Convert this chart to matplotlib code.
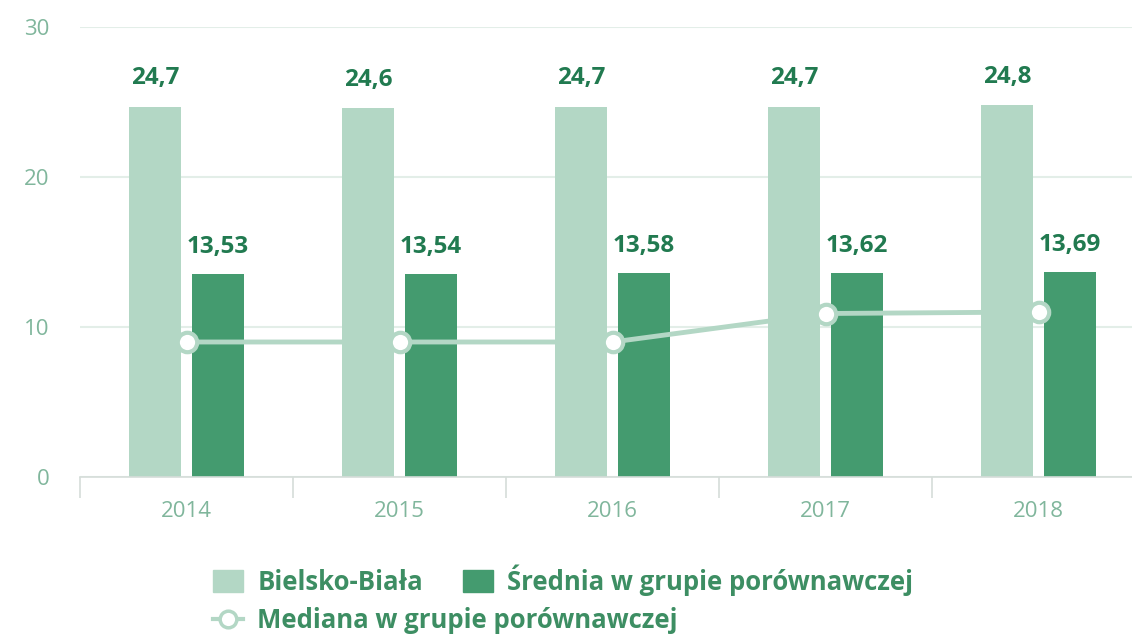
import matplotlib.pyplot as plt
from matplotlib.patches import Patch
from matplotlib.lines import Line2D
import numpy as np

plt.rcParams['font.family'] = ['Open Sans', 'DejaVu Sans']

years = ['2014', '2015', '2016', '2017', '2018']
bielsko = [24.7, 24.6, 24.7, 24.7, 24.8]
srednia = [13.53, 13.54, 13.58, 13.62, 13.69]
mediana = [9.0, 9.0, 9.0, 10.9, 11.0]
bielsko_lbl = ['24,7', '24,6', '24,7', '24,7', '24,8']
srednia_lbl = ['13,53', '13,54', '13,58', '13,62', '13,69']

light = '#b3d7c5'
dark = '#449b6f'
txt = '#217a50'
tick_col = '#80b69c'
grid_col = '#e3eee8'
leg_col = '#3d8e63'

fig = plt.figure(figsize=(11.32, 6.34), dpi=100)
ax = fig.add_axes([80 / 1132, 1 - 477 / 634, 1065 / 1132, 450 / 634])

x = np.arange(len(years))
w = 0.24
off = 0.148
ax.bar(x - off, bielsko, w, color=light, zorder=2)
ax.bar(x + off, srednia, w, color=dark, zorder=2)
ax.plot(x, mediana, color=light, lw=3.5, marker='o', ms=14,
        mfc='white', mec=light, mew=3, zorder=4)

for i in range(len(years)):
    ax.annotate(bielsko_lbl[i], (x[i] - off, bielsko[i]), xytext=(0, 16),
                textcoords='offset points', ha='center', va='baseline',
                fontsize=17.5, fontweight='bold', color=txt)
    ax.annotate(srednia_lbl[i], (x[i] + off, srednia[i]), xytext=(0, 15),
                textcoords='offset points', ha='center', va='baseline',
                fontsize=17.5, fontweight='bold', color=txt)

ax.set_xlim(-0.5, 4.5)
ax.set_ylim(0, 30)
ax.set_yticks([0, 10, 20, 30])
ax.yaxis.grid(True, color=grid_col, lw=1.5, zorder=0)
ax.set_axisbelow(True)
for s in ['top', 'right', 'left']:
    ax.spines[s].set_visible(False)
ax.spines['bottom'].set_color('#d5ddd9')
ax.spines['bottom'].set_linewidth(1.2)

ax.set_xticks(x)
ax.set_xticklabels(years, fontsize=16, color=tick_col)
ax.set_xticks(np.arange(-0.5, 5, 1), minor=True)
ax.tick_params(axis='x', which='major', length=0, pad=17)
ax.tick_params(axis='x', which='minor', length=15, color='#d5ddd9', width=1.2)
ax.tick_params(axis='y', length=0, labelsize=16, labelcolor=tick_col, pad=22)

h1 = [Patch(color=light), Patch(color=dark)]
leg1 = fig.legend(h1, ['Bielsko-Biała', 'Średnia w grupie porównawczej'],
                  loc='center left', bbox_to_anchor=(190 / 1132, 1 - 580 / 634),
                  ncol=2, frameon=False, handlelength=1.17, handleheight=0.93,
                  handletextpad=0.55, columnspacing=1.55,
                  prop={'size': 18.5, 'weight': 'bold'})
for t in leg1.get_texts():
    t.set_color(leg_col)
h2 = [Line2D([], [], color=light, lw=3, marker='o', ms=12, mfc='white', mec=light, mew=2.5)]
leg2 = fig.legend(h2, ['Mediana w grupie porównawczej'],
                  loc='center left', bbox_to_anchor=(190 / 1132, 1 - 620 / 634),
                  frameon=False, handlelength=1.17, handletextpad=0.55,
                  prop={'size': 18.5, 'weight': 'bold'})
for t in leg2.get_texts():
    t.set_color(leg_col)

fig.savefig('out.png', dpi=100)
